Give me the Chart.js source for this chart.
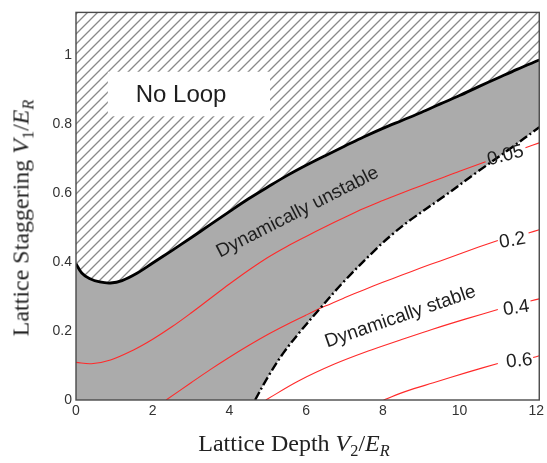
<!DOCTYPE html>
<html>
<head>
<meta charset="utf-8">
<script src="https://cdn.jsdelivr.net/npm/chart.js@4.4.1/dist/chart.umd.min.js"></script>
<style>
  html, body { margin: 0; padding: 0; background: #fff; }
  #wrap { position: relative; width: 547px; height: 463px; }
  .titulo { position: absolute; font-family: "Liberation Serif", "Times New Roman", serif; font-size: 24px; color: #222; white-space: nowrap; }
  .titulo sub { font-size: 0.68em; vertical-align: baseline; position: relative; top: 0.32em; }
  #titulo-x { left: 294px; top: 443px; transform: translate(-50%, -50%); }
  #titulo-y { left: 21px; top: 218px; transform: translate(-50%, -50%) rotate(-90deg); }
</style>
</head>
<body>
<div id="wrap">
  <canvas id="chart" width="547" height="463"></canvas>
  <div class="titulo" id="titulo-x">Lattice Depth <i>V</i><sub>2</sub>/<i>E</i><sub><i>R</i></sub></div>
  <div class="titulo" id="titulo-y">Lattice Staggering <i>V</i><sub>1</sub>/<i>E</i><sub><i>R</i></sub></div>
</div>
<script>
// ============================================
// phase diagram — lattice depth x staggering
// ============================================

const xTicks = [0, 2, 4, 6, 8, 10, 12]
const yTicks = [0, 0.2, 0.4, 0.6, 0.8, 1]

// borda "No Loop" (linha preta cheia)
const loopX = [0, 0.15, 0.35, 0.62, 0.9, 1.2, 1.6, 2.0, 2.5, 3.0, 3.5, 4.0, 4.5, 5.0, 5.5, 6.0, 6.5, 7.0, 7.5, 8.0, 8.5, 9.0, 9.5, 10.0, 10.5, 11.0, 11.5, 12.08]
const loopY = [0.395, 0.368, 0.352, 0.342, 0.339, 0.346, 0.368, 0.397, 0.433, 0.47, 0.508, 0.546, 0.583, 0.617, 0.65, 0.68, 0.708, 0.735, 0.762, 0.787, 0.81, 0.833, 0.858, 0.882, 0.908, 0.933, 0.958, 0.985]

// borda "Dynamically stable" (traco-ponto)
const estavelX = [4.67, 5.0, 5.4, 5.86, 6.37, 7.0, 7.85, 8.28, 8.7, 9.57, 10.43, 11.28, 12.08]
const estavelY = [0, 0.066, 0.135, 0.2, 0.266, 0.345, 0.44, 0.483, 0.52, 0.588, 0.658, 0.725, 0.79]

// curvas de nivel vermelhas (null = espaco do rotulo)
const niveis = ["0.05", "0.2", "0.4", "0.6"]
const c005X = [0, 0.4, 0.9, 1.5, 2.0, 2.5, 3.0, 3.5, 4.0, 4.5, 5.0, 5.5, 6.0, 6.5, 7.0, 7.5, 8.0, 8.5, 9.0, 9.5, 10.0, 10.68, 11.2, 11.72, 12.08]
const c005Y = [0.109, 0.105, 0.116, 0.145, 0.176, 0.212, 0.252, 0.294, 0.336, 0.376, 0.413, 0.445, 0.474, 0.502, 0.529, 0.555, 0.578, 0.6, 0.621, 0.642, 0.663, 0.69, null, 0.731, 0.745]
const c02X  = [2.35, 3.0, 3.5, 4.0, 4.5, 5.0, 5.5, 6.0, 6.5, 7.0, 7.5, 8.0, 8.5, 9.0, 9.5, 10.0, 10.5, 11.0, 11.4, 11.8, 12.08]
const c02Y  = [0, 0.05, 0.088, 0.124, 0.158, 0.19, 0.219, 0.246, 0.272, 0.296, 0.319, 0.341, 0.362, 0.383, 0.403, 0.423, 0.443, 0.462, null, 0.484, 0.493]
const c04X  = [4.95, 5.8, 6.74, 7.6, 8.44, 9.3, 10.17, 11.0, 11.4, 11.85, 12.08]
const c04Y  = [0, 0.055, 0.104, 0.141, 0.173, 0.205, 0.235, 0.262, null, 0.287, 0.293]
const c06X  = [8.02, 8.6, 9.32, 10.2, 11.0, 11.5, 11.92, 12.08]
const c06Y  = [0, 0.025, 0.05, 0.08, 0.106, null, 0.123, 0.128]

const pontos = (xs, ys) => xs.map((x, i) => ({ x, y: ys[i] }))

function hachura() {
  const c = document.createElement("canvas")
  c.width = 10; c.height = 10
  const g = c.getContext("2d")
  g.fillStyle = "#fff"
  g.fillRect(0, 0, 10, 10)
  g.strokeStyle = "#8a8a8a"
  g.lineWidth = 1.3
  g.beginPath()
  g.moveTo(-1, 11); g.lineTo(11, -1)
  g.moveTo(-1, 1); g.lineTo(1, -1)
  g.moveTo(9, 11); g.lineTo(11, 9)
  g.stroke()
  return g.createPattern(c, "repeat")
}

const contorno = (xs, ys) => ({
  data: pontos(xs, ys), borderColor: "#ff2a2a", borderWidth: 1.1,
  pointRadius: 0, fill: false, tension: 0.35, spanGaps: false, order: 4
})

const anotacoes = {
  id: "anotacoes",
  afterDatasetsDraw(chart) {
    const { ctx, scales: { x, y } } = chart

    const texto = (t, vx, vy, rot, size) => {
      ctx.save()
      ctx.translate(x.getPixelForValue(vx), y.getPixelForValue(vy))
      ctx.rotate(rot * Math.PI / 180)
      ctx.font = `${size}px "Liberation Sans", Arial, sans-serif`
      ctx.fillStyle = "#1e1e1e"
      ctx.textAlign = "center"
      ctx.textBaseline = "middle"
      ctx.fillText(t, 0, 0)
      ctx.restore()
    }

    // caixa branca do "No Loop"
    const x0 = x.getPixelForValue(0.83), x1 = x.getPixelForValue(5.06)
    const y0 = y.getPixelForValue(0.951), y1 = y.getPixelForValue(0.822)
    ctx.save()
    ctx.fillStyle = "#fff"
    ctx.fillRect(x0, y0, x1 - x0, y1 - y0)
    ctx.restore()
    texto("No Loop", 2.74, 0.884, 0, 24)

    texto("Dynamically unstable", 5.78, 0.544, -27, 19)
    texto("Dynamically stable", 8.46, 0.241, -19, 19)

    texto(niveis[0], 11.2, 0.708, -15, 19)
    texto(niveis[1], 11.38, 0.462, -10, 19)
    texto(niveis[2], 11.48, 0.266, -8, 19)
    texto(niveis[3], 11.56, 0.113, -6, 19)
  },
  afterDraw(chart) {
    const { ctx, chartArea: a } = chart
    ctx.save()
    ctx.strokeStyle = "#4a4a4a"
    ctx.lineWidth = 1.4
    ctx.strokeRect(a.left, a.top, a.right - a.left, a.bottom - a.top)
    ctx.restore()
  }
}

const fonteTick = { family: "Liberation Sans, Arial, sans-serif", size: 14 }

new Chart(document.getElementById("chart"), {
  type: "line",
  data: {
    datasets: [
      // hachura acima da borda
      { data: pontos(loopX, loopY), borderWidth: 0, pointRadius: 0, backgroundColor: hachura(), fill: "end", tension: 0.35, order: 10 },
      // cinza abaixo da borda
      { data: pontos(loopX, loopY), borderWidth: 0, pointRadius: 0, backgroundColor: "#ababab", fill: "origin", tension: 0.35, order: 9 },
      // branco na regiao estavel
      { data: pontos(estavelX, estavelY), borderWidth: 0, pointRadius: 0, backgroundColor: "#fff", fill: "origin", tension: 0.35, order: 8 },
      contorno(c005X, c005Y),
      contorno(c02X, c02Y),
      contorno(c04X, c04Y),
      contorno(c06X, c06Y),
      { data: pontos(loopX, loopY), borderColor: "#000", borderWidth: 2.8, pointRadius: 0, fill: false, tension: 0.35, order: 1 },
      { data: pontos(estavelX, estavelY), borderColor: "#000", borderWidth: 2.4, borderDash: [9, 3, 2, 3], pointRadius: 0, fill: false, tension: 0.35, order: 0 }
    ]
  },
  options: {
    responsive: false,
    animation: false,
    layout: { padding: { top: 8, right: 3, left: 0, bottom: 0 } },
    plugins: { legend: { display: false }, tooltip: { enabled: false } },
    scales: {
      x: {
        type: "linear", min: 0, max: 12.08,
        afterBuildTicks: s => { s.ticks = xTicks.map(v => ({ value: v })) },
        afterFit: s => { s.height = 63 },
        ticks: { font: fonteTick, color: "#333", padding: 3, maxRotation: 0, callback: v => `${v}` },
        grid: { display: false, drawTicks: false },
        border: { display: false }
      },
      y: {
        type: "linear", min: 0, max: 1.123,
        afterBuildTicks: s => { s.ticks = yTicks.map(v => ({ value: v })) },
        afterFit: s => { s.width = 76 },
        ticks: { font: fonteTick, color: "#333", padding: 4, callback: v => `${v}` },
        grid: { display: false, drawTicks: false },
        border: { display: false }
      }
    }
  },
  plugins: [anotacoes]
})
</script>
</body>
</html>
